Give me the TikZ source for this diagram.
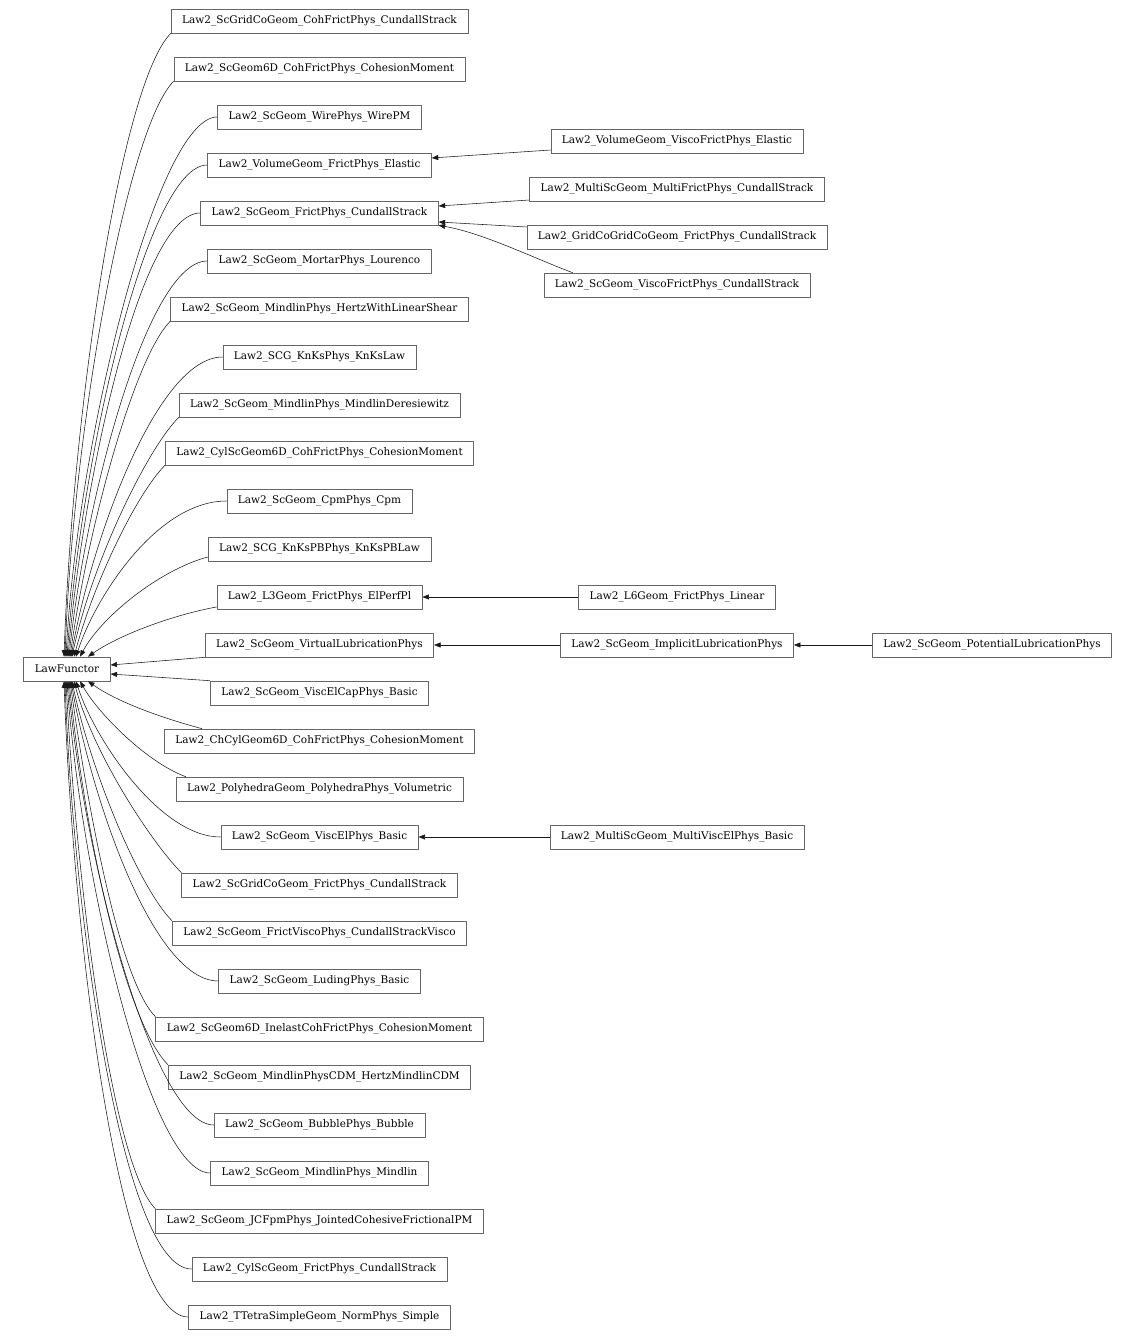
\documentclass[tikz,border=0pt]{standalone}
\usepackage{fontspec}
\setmainfont{DejaVu Serif}
\usetikzlibrary{arrows.meta,positioning}

\begin{document}
\begin{tikzpicture}[
    x=1pt, y=1pt,
    node distance = 23.4pt,
    font=\fontsize{10.5}{12}\selectfont,
    lawbox/.style={
        rectangle, draw=black!60, line width=0.6pt,
        minimum height=24pt, inner xsep=11pt, inner ysep=0pt
    },
    arrow/.style={-{Triangle[length=6.5pt,width=5pt]}, line width=0.55pt, color=black!90}
]
\useasboundingbox (0,0) rectangle (1135,-1340);

\node[lawbox] (lawfunctor) at (67,-669) {LawFunctor};

% left column
\node[lawbox] (gridcohfrict) at (319.5,-21) {Law2\_ScGridCoGeom\_CohFrictPhys\_CundallStrack};
\node[lawbox, below=of gridcohfrict] (geomcohmom)  {Law2\_ScGeom6D\_CohFrictPhys\_CohesionMoment};
\node[lawbox, below=of geomcohmom]   (wirepm)      {Law2\_ScGeom\_WirePhys\_WirePM};
\node[lawbox, below=of wirepm]       (volfrict)    {Law2\_VolumeGeom\_FrictPhys\_Elastic};
\node[lawbox, below=of volfrict]     (frictcs)     {Law2\_ScGeom\_FrictPhys\_CundallStrack};
\node[lawbox, below=of frictcs]      (mortar)      {Law2\_ScGeom\_MortarPhys\_Lourenco};
\node[lawbox, below=of mortar]       (hertzlin)    {Law2\_ScGeom\_MindlinPhys\_HertzWithLinearShear};
\node[lawbox, below=of hertzlin]     (knks)        {Law2\_SCG\_KnKsPhys\_KnKsLaw};
\node[lawbox, below=of knks]         (deres)       {Law2\_ScGeom\_MindlinPhys\_MindlinDeresiewitz};
\node[lawbox, below=of deres]        (cylcoh)      {Law2\_CylScGeom6D\_CohFrictPhys\_CohesionMoment};
\node[lawbox, below=of cylcoh]       (cpm)         {Law2\_ScGeom\_CpmPhys\_Cpm};
\node[lawbox, below=of cpm]          (knkspb)      {Law2\_SCG\_KnKsPBPhys\_KnKsPBLaw};
\node[lawbox, below=of knkspb]       (lthree)      {Law2\_L3Geom\_FrictPhys\_ElPerfPl};
\node[lawbox, below=of lthree]       (vlub)        {Law2\_ScGeom\_VirtualLubricationPhys};
\node[lawbox, below=of vlub]         (viscelcap)   {Law2\_ScGeom\_ViscElCapPhys\_Basic};
\node[lawbox, below=of viscelcap]    (chcyl)       {Law2\_ChCylGeom6D\_CohFrictPhys\_CohesionMoment};
\node[lawbox, below=of chcyl]        (polyh)       {Law2\_PolyhedraGeom\_PolyhedraPhys\_Volumetric};
\node[lawbox, below=of polyh]        (viscel)      {Law2\_ScGeom\_ViscElPhys\_Basic};
\node[lawbox, below=of viscel]       (gridfrict)   {Law2\_ScGridCoGeom\_FrictPhys\_CundallStrack};
\node[lawbox, below=of gridfrict]    (frictvisco)  {Law2\_ScGeom\_FrictViscoPhys\_CundallStrackVisco};
\node[lawbox, below=of frictvisco]   (luding)      {Law2\_ScGeom\_LudingPhys\_Basic};
\node[lawbox, below=of luding]       (inelast)     {Law2\_ScGeom6D\_InelastCohFrictPhys\_CohesionMoment};
\node[lawbox, below=of inelast]      (hertzcdm)    {Law2\_ScGeom\_MindlinPhysCDM\_HertzMindlinCDM};
\node[lawbox, below=of hertzcdm]     (bubble)      {Law2\_ScGeom\_BubblePhys\_Bubble};
\node[lawbox, below=of bubble]       (mindlin)     {Law2\_ScGeom\_MindlinPhys\_Mindlin};
\node[lawbox, below=of mindlin]      (jcfpm)       {Law2\_ScGeom\_JCFpmPhys\_JointedCohesiveFrictionalPM};
\node[lawbox, below=of jcfpm]        (cylfrict)    {Law2\_CylScGeom\_FrictPhys\_CundallStrack};
\node[lawbox, below=of cylfrict]     (ttetra)      {Law2\_TTetraSimpleGeom\_NormPhys\_Simple};

% right columns
\node[lawbox] (volvisco)    at (677,-141)  {Law2\_VolumeGeom\_ViscoFrictPhys\_Elastic};
\node[lawbox] (multifrict)  at (677,-189)  {Law2\_MultiScGeom\_MultiFrictPhys\_CundallStrack};
\node[lawbox] (gridcogrid)  at (677,-237)  {Law2\_GridCoGridCoGeom\_FrictPhys\_CundallStrack};
\node[lawbox] (viscofrict)  at (677,-285)  {Law2\_ScGeom\_ViscoFrictPhys\_CundallStrack};
\node[lawbox] (lsix)        at (677,-597)  {Law2\_L6Geom\_FrictPhys\_Linear};
\node[lawbox] (implub)      at (677,-645)  {Law2\_ScGeom\_ImplicitLubricationPhys};
\node[lawbox] (potlub)      at (992,-645)  {Law2\_ScGeom\_PotentialLubricationPhys};
\node[lawbox] (multiviscel) at (677,-837)  {Law2\_MultiScGeom\_MultiViscElPhys\_Basic};

% edges to LawFunctor, from above
\draw[arrow] (gridcohfrict.south west) to[out=225, in=88, out distance=70pt, in distance=250pt] ([xshift=-3pt]lawfunctor.north);
\draw[arrow] (geomcohmom.south west)   to[out=225, in=88, out distance=65pt, in distance=230pt] ([xshift=-2pt]lawfunctor.north);
\draw[arrow] (wirepm.west)   to[out=180, in=87, out distance=60pt, in distance=216pt] ([xshift=-1pt]lawfunctor.north);
\draw[arrow] (volfrict.west) to[out=180, in=86, out distance=60pt, in distance=197pt] (lawfunctor.north);
\draw[arrow] (frictcs.west)  to[out=180, in=85, out distance=60pt, in distance=178pt] ([xshift=1pt]lawfunctor.north);
\draw[arrow] (mortar.west)   to[out=180, in=84, out distance=60pt, in distance=158pt] ([xshift=2pt]lawfunctor.north);
\draw[arrow] (hertzlin.south west) to[out=225, in=82, out distance=50pt, in distance=134pt] ([xshift=3pt]lawfunctor.north);
\draw[arrow] (knks.west)     to[out=180, in=80, out distance=65pt, in distance=120pt] ([xshift=4pt]lawfunctor.north);
\draw[arrow] (deres.south west)  to[out=225, in=78, out distance=45pt, in distance=96pt] ([xshift=5pt]lawfunctor.north);
\draw[arrow] (cylcoh.south west) to[out=225, in=75, out distance=40pt, in distance=77pt] ([xshift=7pt]lawfunctor.north);
\draw[arrow] (cpm.west)      to[out=180, in=72, out distance=70pt, in distance=62pt] ([xshift=9pt]lawfunctor.north);
\draw[arrow] ([yshift=-8pt]knkspb.west) to[out=195, in=62, out distance=50pt, in distance=45pt] ([xshift=13pt]lawfunctor.north);
\draw[arrow] ([yshift=-10pt]lthree.west) to[out=190, in=35, out distance=40pt, in distance=40pt] ([xshift=21pt]lawfunctor.north);

% edges to LawFunctor, beside
\draw[arrow] (vlub.south west)      -- ([yshift=4pt]lawfunctor.east);
\draw[arrow] (viscelcap.north west) -- ([yshift=-5pt]lawfunctor.east);

% edges to LawFunctor, from below
\draw[arrow] ([xshift=38pt]chcyl.north west) to[out=165, in=-35, out distance=45pt, in distance=35pt] ([xshift=21pt]lawfunctor.south);
\draw[arrow] ([xshift=10pt]polyh.north west) to[out=160, in=-60, out distance=40pt, in distance=40pt] ([xshift=13pt]lawfunctor.south);
\draw[arrow] (viscel.west)      to[out=180, in=-72, out distance=60pt, in distance=62pt] ([xshift=9pt]lawfunctor.south);
\draw[arrow] (gridfrict.north west)  to[out=135, in=-75, out distance=40pt, in distance=77pt] ([xshift=7pt]lawfunctor.south);
\draw[arrow] (frictvisco.north west) to[out=135, in=-78, out distance=45pt, in distance=96pt] ([xshift=5pt]lawfunctor.south);
\draw[arrow] (luding.west)     to[out=180, in=-80, out distance=65pt, in distance=120pt] ([xshift=4pt]lawfunctor.south);
\draw[arrow] (inelast.north west)  to[out=135, in=-82, out distance=50pt, in distance=134pt] ([xshift=3pt]lawfunctor.south);
\draw[arrow] (hertzcdm.north west) to[out=135, in=-84, out distance=60pt, in distance=158pt] ([xshift=2pt]lawfunctor.south);
\draw[arrow] (bubble.west)     to[out=180, in=-85, out distance=60pt, in distance=178pt] ([xshift=1pt]lawfunctor.south);
\draw[arrow] (mindlin.west)    to[out=180, in=-86, out distance=60pt, in distance=197pt] (lawfunctor.south);
\draw[arrow] (jcfpm.north west)    to[out=135, in=-87, out distance=60pt, in distance=216pt] ([xshift=-1pt]lawfunctor.south);
\draw[arrow] (cylfrict.west)   to[out=180, in=-88, out distance=70pt, in distance=230pt] ([xshift=-2pt]lawfunctor.south);
\draw[arrow] (ttetra.west)     to[out=180, in=-88, out distance=70pt, in distance=250pt] ([xshift=-3pt]lawfunctor.south);

% right side edges
\draw[arrow] ([yshift=-9pt]volvisco.west)    -- ([yshift=7pt]volfrict.east);
\draw[arrow] ([yshift=-11pt]multifrict.west) -- ([yshift=7pt]frictcs.east);
\draw[arrow] ([yshift=10pt]gridcogrid.west)  -- ([yshift=-9pt]frictcs.east);
\draw[arrow] ([xshift=29pt]viscofrict.north west) .. controls +(-40,15) and +(45,-8) .. (frictcs.south east);
\draw[arrow] (lsix)   -- (lthree);
\draw[arrow] (implub) -- (vlub);
\draw[arrow] (potlub) -- (implub);
\draw[arrow] (multiviscel) -- (viscel);
\end{tikzpicture}
\end{document}
